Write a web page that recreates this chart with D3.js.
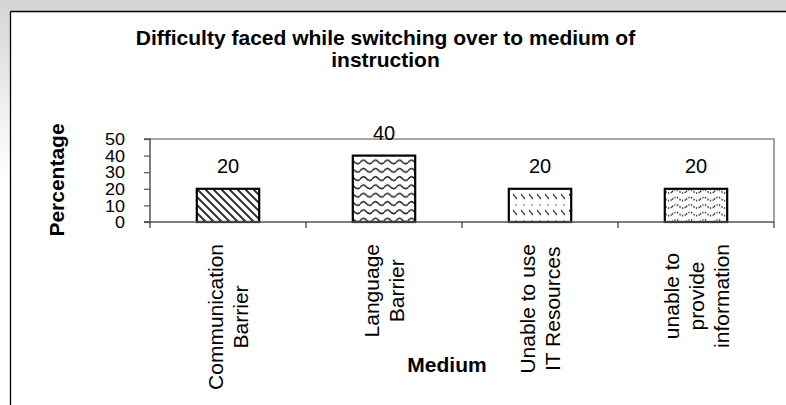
<!DOCTYPE html>
<html>
<head>
<meta charset="utf-8">
<script src="https://cdn.jsdelivr.net/npm/d3@7"></script>
<style>
  html, body { margin: 0; padding: 0; background: #ffffff; }
  svg { display: block; font-family: "Liberation Sans", Arial, sans-serif; }
</style>
</head>
<body>
<svg id="chart" width="786" height="405"></svg>
<script>
// ---- data ----
const titleLines = ["Difficulty faced while switching over to medium of", "instruction"];
const categories = ["Communication Barrier", "Language Barrier", "Unable to use IT Resources", "unable to provide information"];
const categoryLabelLines = [
  ["Communication", "Barrier"],
  ["Language", "Barrier"],
  ["Unable to use", "IT Resources"],
  ["unable to", "provide", "information"]
];
const values = [20, 40, 20, 20];
const yTicks = [0, 10, 20, 30, 40, 50];
const yTitle = "Percentage";
const xTitle = "Medium";
const patternIds = ["pDiag", "pWave", "pDash", "pDotWave"];

// ---- setup ----
const svg = d3.select("#chart");
const W = 786, H = 405;
const plot = { left: 150, right: 774, top: 139, bottom: 222 };

// background: grey band on top, frame lines
svg.append("rect").attr("x", 0).attr("y", 0).attr("width", W).attr("height", H).attr("fill", "#ffffff");
const grad = svg.append("defs").append("linearGradient").attr("id", "leftFade")
  .attr("x1", 0).attr("y1", 0).attr("x2", 0).attr("y2", 1);
grad.append("stop").attr("offset", "0%").attr("stop-color", "#d4d4d4");
grad.append("stop").attr("offset", "25%").attr("stop-color", "#eeeeee");
grad.append("stop").attr("offset", "45%").attr("stop-color", "#ffffff");
svg.append("rect").attr("x", 0).attr("y", 0).attr("width", 10).attr("height", H).attr("fill", "url(#leftFade)");
svg.append("rect").attr("x", 0).attr("y", 0).attr("width", W).attr("height", 11).attr("fill", "#d6d6d6");
svg.append("line").attr("x1", 10.5).attr("x2", W).attr("y1", 11.5).attr("y2", 11.5).attr("stroke", "#000").attr("stroke-width", 1.3);
svg.append("line").attr("x1", 10.5).attr("x2", 10.5).attr("y1", 11.5).attr("y2", H).attr("stroke", "#000").attr("stroke-width", 1.3);

// ---- patterns ----
const defs = svg.append("defs");
// 1: wide downward diagonal
const p1 = defs.append("pattern").attr("id", "pDiag").attr("patternUnits", "userSpaceOnUse")
  .attr("width", 8).attr("height", 8);
p1.append("rect").attr("width", 8).attr("height", 8).attr("fill", "#fff");
p1.append("path").attr("d", "M-2,-2 L10,10 M-2,6 L2,10 M6,-2 L10,2")
  .attr("stroke", "#333").attr("stroke-width", 2);
// 2: wave
const p2 = defs.append("pattern").attr("id", "pWave").attr("patternUnits", "userSpaceOnUse")
  .attr("width", 12).attr("height", 8.3);
p2.append("rect").attr("width", 12).attr("height", 8.3).attr("fill", "#fff");
p2.append("path").attr("d", "M0,5 Q3,0.5 6,4 Q9,7.5 12,5")
  .attr("fill", "none").attr("stroke", "#222").attr("stroke-width", 1.5);
// 3: light dashed diagonal
const p3 = defs.append("pattern").attr("id", "pDash").attr("patternUnits", "userSpaceOnUse")
  .attr("width", 8).attr("height", 16);
p3.append("rect").attr("width", 8).attr("height", 16).attr("fill", "#fff");
p3.append("path").attr("d", "M1,2 L5,7").attr("stroke", "#444").attr("stroke-width", 1.3);
p3.append("circle").attr("cx", 4).attr("cy", 13).attr("r", 0.8).attr("fill", "#555");
// 4: dotted wave
const p4 = defs.append("pattern").attr("id", "pDotWave").attr("patternUnits", "userSpaceOnUse")
  .attr("width", 14).attr("height", 7.5);
p4.append("rect").attr("width", 14).attr("height", 7.5).attr("fill", "#fff");
p4.append("path").attr("d", "M0,4.5 Q3.5,0.5 7,3.7 Q10.5,7 14,4.5")
  .attr("fill", "none").attr("stroke", "#222").attr("stroke-width", 1.4).attr("stroke-dasharray", "1.4,1.4");

// ---- scales ----
const x = d3.scaleBand().domain(categories).range([plot.left, plot.right]).paddingInner(0).paddingOuter(0);
const y = d3.scaleLinear().domain([0, 50]).range([plot.bottom, plot.top]);
const barW = x.bandwidth() * 0.4;

// plot area border (top & right)
svg.append("path")
  .attr("d", `M${plot.left},${plot.top} H${plot.right} V${plot.bottom}`)
  .attr("fill", "none").attr("stroke", "#8a8a8a").attr("stroke-width", 1.6);

// ---- bars ----
svg.append("g").selectAll("rect").data(values).join("rect")
  .attr("x", (d, i) => x(categories[i]) + (x.bandwidth() - barW) / 2)
  .attr("y", d => y(d))
  .attr("width", barW)
  .attr("height", d => y(0) - y(d))
  .attr("fill", (d, i) => `url(#${patternIds[i]})`)
  .attr("stroke", "#000").attr("stroke-width", 2.2);

// ---- y axis ----
const yAxis = svg.append("g").attr("transform", `translate(${plot.left},0)`)
  .call(d3.axisLeft(y).tickValues(yTicks).tickSize(6).tickPadding(19).tickFormat(d3.format("d")));
yAxis.select(".domain").attr("stroke", "#555").attr("stroke-width", 1.5).attr("d", `M-6,${plot.top}H0V${plot.bottom}H-6`);
yAxis.selectAll(".tick line").attr("stroke", "#555").attr("stroke-width", 1.2);
yAxis.selectAll(".tick text").attr("font-size", 16).attr("fill", "#000")
  .attr("font-family", "Liberation Sans, Arial, sans-serif").attr("dy", "0.36em")
  .attr("lengthAdjust", "spacingAndGlyphs")
  .attr("textLength", d => String(d).length * 10);

// ---- x axis ----
const xAxisG = svg.append("g");
xAxisG.append("line").attr("x1", plot.left - 6).attr("x2", plot.right).attr("y1", plot.bottom).attr("y2", plot.bottom)
  .attr("stroke", "#555").attr("stroke-width", 1.5);
const boundaries = categories.map(c => x(c)).concat([x.range()[1]]);
xAxisG.selectAll("line.tick").data(boundaries).join("line").attr("class", "tick")
  .attr("x1", d => d).attr("x2", d => d).attr("y1", plot.bottom).attr("y2", plot.bottom + 6)
  .attr("stroke", "#333").attr("stroke-width", 1.2);

// ---- data labels ----
svg.append("g").selectAll("text").data(values).join("text")
  .attr("x", (d, i) => x(categories[i]) + x.bandwidth() / 2)
  .attr("y", d => y(d) - 16)
  .attr("text-anchor", "middle").attr("font-size", 20).attr("fill", "#000")
  .text(d => d);

// ---- category labels (rotated) ----
const fsCat = 21, lineGap = 25, labelTop = 244;
categoryLabelLines.forEach((lines, i) => {
  const cx = x(categories[i]) + x.bandwidth() / 2;
  const g = svg.append("g");
  const texts = lines.map(t => g.append("text").attr("font-size", fsCat).attr("text-anchor", "middle").attr("fill", "#000").text(t));
  const maxLen = d3.max(texts, t => t.node().getComputedTextLength());
  const cy = labelTop + maxLen / 2;
  const n = lines.length;
  texts.forEach((t, j) => {
    const lx = cx + (j - (n - 1) / 2) * lineGap + fsCat * 0.36;
    t.attr("transform", `translate(${lx},${cy}) rotate(-90)`);
  });
});

// ---- axis titles ----
svg.append("text").attr("transform", `translate(64,180) rotate(-90)`)
  .attr("text-anchor", "middle").attr("font-size", 21).attr("font-weight", "bold").text(yTitle);
svg.append("text").attr("x", 447).attr("y", 372)
  .attr("text-anchor", "middle").attr("font-size", 21).attr("font-weight", "bold").text(xTitle);

// ---- title ----
svg.append("g").selectAll("text").data(titleLines).join("text")
  .attr("x", 385.5).attr("y", (d, i) => 45 + i * 22)
  .attr("text-anchor", "middle").attr("font-size", 21).attr("font-weight", "bold").text(d => d);
</script>
</body>
</html>
